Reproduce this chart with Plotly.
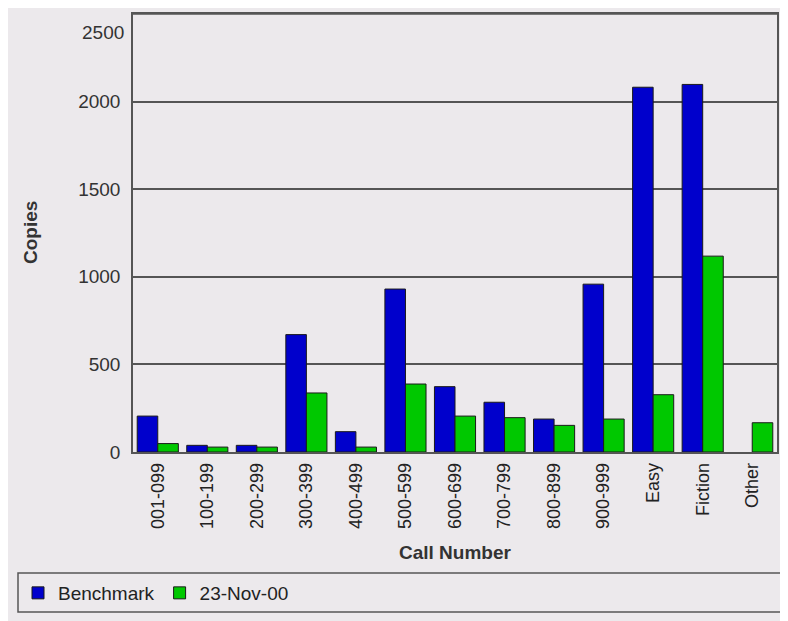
import plotly.graph_objects as go

categories = ["001-099", "100-199", "200-299", "300-399", "400-499", "500-599",
              "600-699", "700-799", "800-899", "900-999", "Easy", "Fiction", "Other"]
benchmark = [205, 38, 38, 670, 116, 930, 373, 284, 188, 958, 2082, 2098, None]
nov00 = [48, 28, 28, 337, 28, 388, 205, 196, 152, 188, 327, 1118, 167]
y_ticks = [0, 500, 1000, 1500, 2000, 2500]

# page body has an 8px margin; figure coords = screen - 8
W, H = 780, 613
L, T = 125, 6
pw, ph = 644, 438
R, B = W - L - pw, H - T - ph

def px(x):
    return (x - L) / pw

def py(y):
    return (T + ph - y) / ph

bg = "#ECE9EC"
fig = go.Figure()
fig.add_trace(go.Bar(x=categories, y=benchmark, name="Benchmark",
                     marker=dict(color="#0000CC", line=dict(color="#1a1a1a", width=1))))
fig.add_trace(go.Bar(x=categories, y=nov00, name="23-Nov-00",
                     marker=dict(color="#00C800", line=dict(color="#1a1a1a", width=1))))

shapes = [
    dict(type="rect", xref="paper", yref="paper", x0=px(10), x1=px(777), y0=py(604), y1=py(565),
         fillcolor="rgba(0,0,0,0)", line=dict(color="#555555", width=1.5), layer="above"),
]

fig.update_layout(
    width=W, height=H,
    margin=dict(l=L, r=R, t=T, b=B, pad=0, autoexpand=False),
    paper_bgcolor=bg, plot_bgcolor=bg,
    barmode="group", bargap=0.17, bargroupgap=0,
    font=dict(family="Liberation Sans, Arial, sans-serif", size=18, color="#222222"),
    showlegend=True,
    legend=dict(orientation="h", x=px(10), y=py(585), xanchor="left", yanchor="middle",
                bgcolor="rgba(0,0,0,0)", borderwidth=0,
                font=dict(size=19, color="#222222"), itemwidth=30, tracegroupgap=0),
    shapes=shapes,
    annotations=[
        dict(text="<b>Copies</b>", xref="paper", yref="paper", x=px(22), y=py(225),
             textangle=-90, showarrow=False, xanchor="center", yanchor="middle",
             font=dict(size=19, color="#333333")),
        dict(text="<b>Call Number</b>", xref="paper", yref="paper", x=0.5, y=py(544),
             showarrow=False, xanchor="center", yanchor="middle",
             font=dict(size=19, color="#333333")),
        dict(text=str(y_ticks[-1]), xref="paper", yref="y", x=0, y=y_ticks[-1],
             xanchor="right", yanchor="middle", xshift=-7, yshift=-18, showarrow=False,
             font=dict(size=19, color="#333333")),
    ],
)
fig.update_xaxes(tickangle=-90, showline=True, linecolor="#555555", linewidth=1.5, mirror=True,
                 ticks="outside", ticklen=2, tickcolor="rgba(0,0,0,0)", showgrid=False,
                 automargin=False, tickfont=dict(size=18, color="#222222"))
fig.update_yaxes(range=[0, 2500], tickvals=y_ticks[:-1], showline=True, linecolor="#555555",
                 linewidth=1.5, mirror=True, gridcolor="#555555", gridwidth=1.5,
                 ticks="outside", ticklen=7, tickcolor="rgba(0,0,0,0)", zeroline=False,
                 automargin=False, tickfont=dict(size=19, color="#333333"))
# gridline for the top value
fig.add_hline(y=y_ticks[-1], line=dict(color="#555555", width=1.5))

fig.write_html("out.html")
